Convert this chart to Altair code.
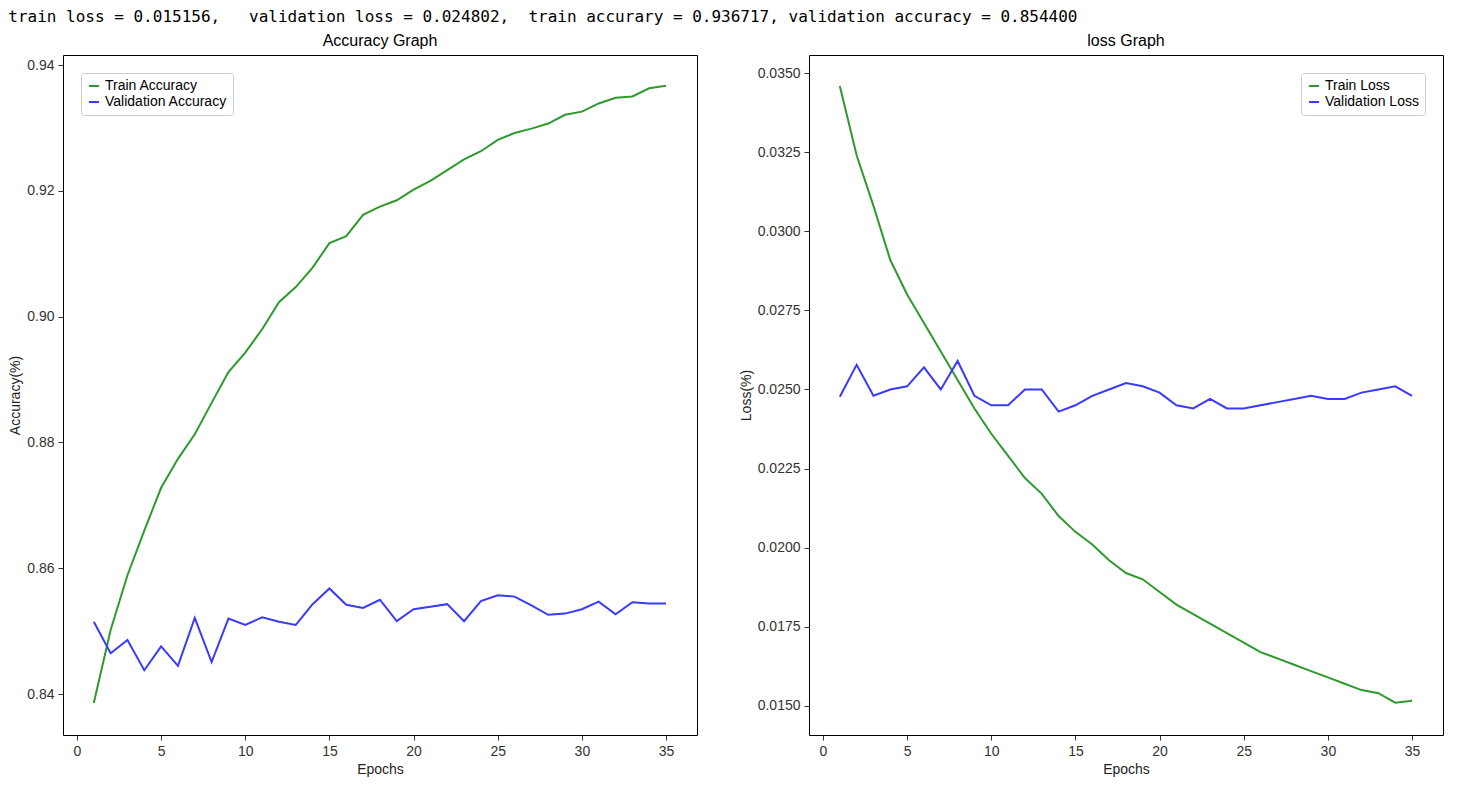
import pandas as pd
import altair as alt

epochs = list(range(1, 36))

train_acc = [0.8386, 0.8502, 0.8589, 0.8660, 0.8728, 0.8774, 0.8813, 0.8863, 0.8912, 0.8943,
             0.8980, 0.9023, 0.9047, 0.9078, 0.9117, 0.9128, 0.9162, 0.9175, 0.9185, 0.9202,
             0.9216, 0.9233, 0.9250, 0.9263, 0.9281, 0.9292, 0.9299, 0.9307, 0.9321, 0.9326,
             0.9339, 0.9348, 0.9350, 0.9363, 0.9367]
val_acc = [0.8515, 0.8465, 0.8486, 0.8438, 0.8476, 0.8445, 0.8521, 0.8451, 0.8520, 0.8510,
           0.8522, 0.8515, 0.8510, 0.8543, 0.8568, 0.8542, 0.8537, 0.8550, 0.8516, 0.8535,
           0.8539, 0.8543, 0.8516, 0.8548, 0.8557, 0.8555, 0.8541, 0.8526, 0.8528, 0.8535,
           0.8547, 0.8527, 0.8546, 0.8544, 0.8544]
train_loss = [0.03459, 0.0324, 0.0308, 0.02909, 0.0280, 0.0271, 0.0262, 0.0253, 0.0244, 0.0236,
              0.0229, 0.0222, 0.0217, 0.0210, 0.0205, 0.0201, 0.0196, 0.0192, 0.0190, 0.0186,
              0.0182, 0.0179, 0.0176, 0.0173, 0.0170, 0.0167, 0.0165, 0.0163, 0.0161, 0.0159,
              0.0157, 0.0155, 0.0154, 0.0151, 0.01516]
val_loss = [0.02477, 0.02578, 0.0248, 0.0250, 0.0251, 0.0257, 0.0250, 0.0259, 0.0248, 0.0245,
            0.0245, 0.0250, 0.0250, 0.0243, 0.0245, 0.0248, 0.0250, 0.0252, 0.0251, 0.0249,
            0.0245, 0.0244, 0.0247, 0.0244, 0.0244, 0.0245, 0.0246, 0.0247, 0.0248, 0.0247,
            0.0247, 0.0249, 0.0250, 0.0251, 0.0248]

acc_ticks = [0.84, 0.86, 0.88, 0.90, 0.92, 0.94]
loss_ticks = [0.015, 0.0175, 0.02, 0.0225, 0.025, 0.0275, 0.03, 0.0325, 0.035]
epoch_ticks = [0, 5, 10, 15, 20, 25, 30, 35]

# keep the runs of spaces (non-breaking)
headline = ("train loss = 0.015156,   validation loss = 0.024802,  "
            "train accurary = 0.936717, validation accuracy = 0.854400").replace(" ", "\u00a0")

GREEN = "#2e9a2e"
BLUE = "#3a3aff"


def panel(train, val, names, ytitle, title, ydomain, yticks, yformat, legend_orient):
    df = pd.DataFrame({"Epoch": epochs * 2,
                       "value": train + val,
                       "series": [names[0]] * 35 + [names[1]] * 35})
    return alt.Chart(df, title=alt.Title(title, fontSize=16, fontWeight="normal", offset=6)).mark_line(
        strokeWidth=2
    ).encode(
        x=alt.X("Epoch:Q", title="Epochs",
                scale=alt.Scale(domain=[-0.83, 36.84], nice=False, zero=False),
                axis=alt.Axis(values=epoch_ticks, grid=False)),
        y=alt.Y("value:Q", title=ytitle,
                scale=alt.Scale(domain=ydomain, nice=False, zero=False),
                axis=alt.Axis(format=yformat, grid=False, values=yticks)),
        color=alt.Color("series:N", sort=names,
                        scale=alt.Scale(domain=names, range=[GREEN, BLUE]),
                        legend=alt.Legend(title=None, orient=legend_orient, symbolType="stroke",
                                          symbolStrokeWidth=2, labelFontSize=14,
                                          strokeColor="#cccccc", fillColor="white",
                                          padding=6, cornerRadius=3)),
    ).properties(width=634, height=680)


acc = panel(train_acc, val_acc, ["Train Accuracy", "Validation Accuracy"], "Accuracy(%)",
            "Accuracy Graph", [0.8335, 0.9416], acc_ticks, ".2f", "top-left")
loss = panel(train_loss, val_loss, ["Train Loss", "Validation Loss"], "Loss(%)",
             "loss Graph", [0.01408, 0.03557], loss_ticks, ".4f", "top-right")

chart = alt.hconcat(acc, loss, spacing=40).resolve_scale(color="independent").properties(
    padding=0,
    title=alt.Title(headline, font="DejaVu Sans Mono", fontSize=16, fontWeight="normal",
                    anchor="start", offset=8)
).configure_view(stroke="black", strokeWidth=1).configure_axis(
    domain=False, labelFontSize=14, titleFontSize=14, titleFontWeight="normal",
    labelColor="#333333", tickColor="#333333", titleColor="#222222", labelPadding=4
)

chart.save("out.html", embed_options={"renderer": "svg", "actions": False})
